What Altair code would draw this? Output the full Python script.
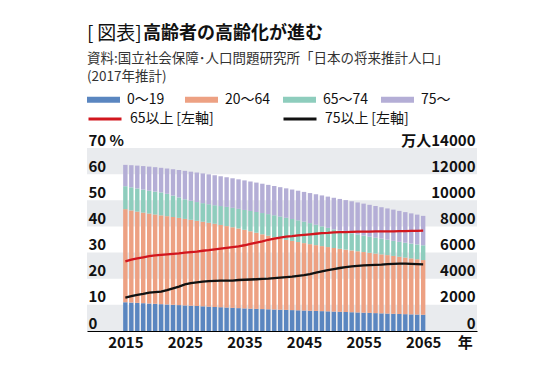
import altair as alt
import pandas as pd

years = list(range(2015, 2066))

# 万人 (right axis)
age_0_19 = [2200, 2177, 2153, 2129, 2103, 2077, 2053, 2029, 2005, 1981,
            1957, 1934, 1911, 1888, 1864, 1841, 1818, 1795, 1772, 1749,
            1726, 1708, 1692, 1676, 1660, 1644, 1629, 1614, 1598, 1583,
            1568, 1552, 1536, 1519, 1503, 1487, 1470, 1453, 1436, 1419,
            1402, 1385, 1368, 1350, 1333, 1316, 1301, 1287, 1272, 1258, 1243]
age_20_64 = [7123, 7048, 6985, 6928, 6882, 6837, 6794, 6756, 6717, 6673,
             6620, 6573, 6522, 6470, 6415, 6356, 6295, 6232, 6165, 6093,
             6014, 5922, 5824, 5723, 5623, 5527, 5443, 5364, 5292, 5223,
             5155, 5093, 5033, 4976, 4919, 4864, 4817, 4772, 4727, 4682,
             4638, 4596, 4554, 4513, 4472, 4428, 4381, 4332, 4283, 4233, 4184]
age_65_74 = [1755, 1768, 1767, 1764, 1743, 1747, 1757, 1709, 1641, 1568,
             1497, 1456, 1431, 1421, 1421, 1428, 1446, 1467, 1486, 1503,
             1522, 1553, 1589, 1625, 1658, 1682, 1689, 1687, 1677, 1662,
             1642, 1607, 1563, 1514, 1467, 1424, 1383, 1345, 1310, 1282,
             1258, 1236, 1217, 1198, 1176, 1153, 1139, 1133, 1131, 1132, 1133]
age_75 = [1632, 1691, 1748, 1797, 1849, 1872, 1880, 1937, 2012, 2094,
          2180, 2227, 2260, 2277, 2285, 2288, 2279, 2268, 2260, 2258,
          2260, 2255, 2249, 2243, 2239, 2239, 2242, 2248, 2256, 2265,
          2277, 2300, 2330, 2363, 2393, 2417, 2433, 2444, 2451, 2451,
          2446, 2436, 2423, 2409, 2397, 2387, 2369, 2343, 2313, 2281, 2248]

# % (left axis)
pct_65 = [26.6, 27.3, 27.8, 28.2, 28.6, 28.9, 29.1, 29.3, 29.5, 29.7,
          30.0, 30.2, 30.4, 30.7, 30.9, 31.2, 31.5, 31.8, 32.1, 32.4,
          32.8, 33.3, 33.8, 34.3, 34.9, 35.3, 35.7, 36.1, 36.3, 36.6,
          36.8, 37.0, 37.2, 37.4, 37.5, 37.7, 37.8, 37.8, 37.9, 38.0,
          38.0, 38.0, 38.1, 38.1, 38.1, 38.1, 38.2, 38.2, 38.3, 38.3, 38.4]
pct_75 = [12.8, 13.3, 13.8, 14.2, 14.7, 14.9, 15.1, 15.6, 16.3, 17.0,
          17.8, 18.3, 18.6, 18.9, 19.1, 19.2, 19.3, 19.3, 19.3, 19.5,
          19.6, 19.7, 19.8, 19.9, 20.0, 20.2, 20.4, 20.6, 20.8, 21.1,
          21.4, 21.8, 22.3, 22.8, 23.3, 23.7, 24.1, 24.4, 24.7, 24.9,
          25.1, 25.2, 25.3, 25.4, 25.6, 25.7, 25.8, 25.8, 25.7, 25.6, 25.5]

bar_groups = ["0〜19", "20〜64", "65〜74", "75〜"]
bar_colors = ["#5a86c0", "#eda183", "#8ecdbd", "#b4aed6"]
line_groups = ["65以上\u2009[左軸]", "75以上\u2009[左軸]"]
line_colors = ["#d2161e", "#111111"]

band_lo = [0, 20, 40, 60]
band_hi = [10, 30, 50, 70]

year_ticks = [2015, 2025, 2035, 2045, 2055, 2065, 2072]

FONT = "Noto Sans CJK JP"
W, H = 390, 183

rows = []
for i, y in enumerate(years):
    for k, vals in enumerate([age_0_19, age_20_64, age_65_74, age_75]):
        rows.append({"year": y, "group": bar_groups[k], "idx": k, "value": vals[i]})
bars_df = pd.DataFrame(rows)

lrows = []
for i, y in enumerate(years):
    lrows.append({"year": y, "series": line_groups[0], "pct": pct_65[i]})
    lrows.append({"year": y, "series": line_groups[1], "pct": pct_75[i]})
lines_df = pd.DataFrame(lrows)

bands_df = pd.DataFrame({"lo": band_lo, "hi": band_hi})

xscale = alt.Scale(domain=[2009.4, 2073.2], nice=False, zero=False)
xaxis = alt.Axis(values=year_ticks, labelExpr="datum.value == 2072 ? '年' : datum.value",
                 grid=False, ticks=False, domain=True, domainColor="#000000", domainWidth=1,
                 labelFont=FONT, labelFontSize=15, labelFontWeight="bold", labelColor="#111111",
                 labelPadding=4, title=None, labelFlush=False, labelOverlap=False, zindex=1)

bands = alt.Chart(bands_df).mark_rect(color="#e9ebee").encode(
    x=alt.value(0), x2=alt.value(W),
    y=alt.Y("lo:Q", scale=alt.Scale(domain=[0, 70], nice=False), axis=None),
    y2="hi:Q",
)

bars = alt.Chart(bars_df).mark_bar(size=4.4).encode(
    x=alt.X("year:Q", scale=xscale, axis=xaxis),
    y=alt.Y("value:Q", stack="zero",
            scale=alt.Scale(domain=[0, 14000], nice=False),
            axis=alt.Axis(orient="right", values=list(range(0, 14001, 2000)),
                          labelExpr="datum.value == 14000 ? '万人14000' : datum.value",
                          labelAlign="right", labelPadding=-2, labelBaseline="bottom",
                          labelFont=FONT, labelFontSize=15, labelFontWeight="bold",
                          labelColor="#111111", domain=False, ticks=False, grid=False,
                          labelOverlap=False, title=None, zindex=1)),
    color=alt.Color("group:N", scale=alt.Scale(domain=bar_groups, range=bar_colors),
                    legend=alt.Legend(orient="none", legendX=0, legendY=-65, columns=4,
                                      direction="horizontal", gridAlign="all",
                                      columnPadding=12, title=None,
                                      symbolType="M-1,-0.18H1V0.18H-1Z", symbolSize=1089,
                                      symbolStrokeWidth=0, symbolOpacity=1,
                                      labelFont=FONT, labelFontSize=14, labelColor="#111111",
                                      labelOffset=7)),
    order=alt.Order("idx:Q", sort="ascending"),
)

lines = alt.Chart(lines_df).mark_line(strokeWidth=2.3).encode(
    x=alt.X("year:Q", scale=xscale, axis=xaxis),
    y=alt.Y("pct:Q", scale=alt.Scale(domain=[0, 70], nice=False),
            axis=alt.Axis(orient="left", values=list(range(0, 71, 10)),
                          labelExpr="datum.value == 70 ? '70 %' : datum.value",
                          labelAlign="left", labelPadding=-1, labelBaseline="bottom",
                          labelFont=FONT, labelFontSize=15, labelFontWeight="bold",
                          labelColor="#111111", domain=False, ticks=False, grid=False,
                          labelOverlap=False, title=None, zindex=1)),
    stroke=alt.Stroke("series:N", scale=alt.Scale(domain=line_groups, range=line_colors),
                      legend=alt.Legend(orient="none", legendX=0, legendY=-47, columns=2,
                                        direction="horizontal", gridAlign="all",
                                        columnPadding=63, title=None,
                                        symbolType="stroke", symbolSize=1089,
                                        symbolStrokeWidth=3,
                                        labelFont=FONT, labelFontSize=14, labelColor="#111111",
                                        labelOffset=7)),
)

def label(text, x, y, size, weight="normal", color="#111111"):
    return alt.Chart(pd.DataFrame({"t": [text]})).mark_text(
        align="left", baseline="middle", font=FONT, fontSize=size,
        fontWeight=weight, color=color
    ).encode(text="t:N", x=alt.value(x), y=alt.value(y))

title1 = label("[\u2009図表]", 0, -114, 19)
title2 = label("高齢者の高齢化が進む", 56, -114, 18, "bold")
sub1 = label("資料:国立社会保障･人口問題研究所「日本の将来推計人口」", 0, -89, 13.5, color="#333333")
sub2 = label("(2017年推計)", 0, -71, 13.5, color="#333333")

chart = alt.layer(bands, bars, lines, title1, title2, sub1, sub2).resolve_scale(
    y="independent"
).properties(
    width=W, height=H,
    autosize=alt.AutoSizeParams(type="none"),
    padding={"left": 79, "top": 140, "right": 20, "bottom": 30},
).configure_view(stroke=None)

chart.save("out.html", embed_options={"renderer": "svg", "actions": False})
